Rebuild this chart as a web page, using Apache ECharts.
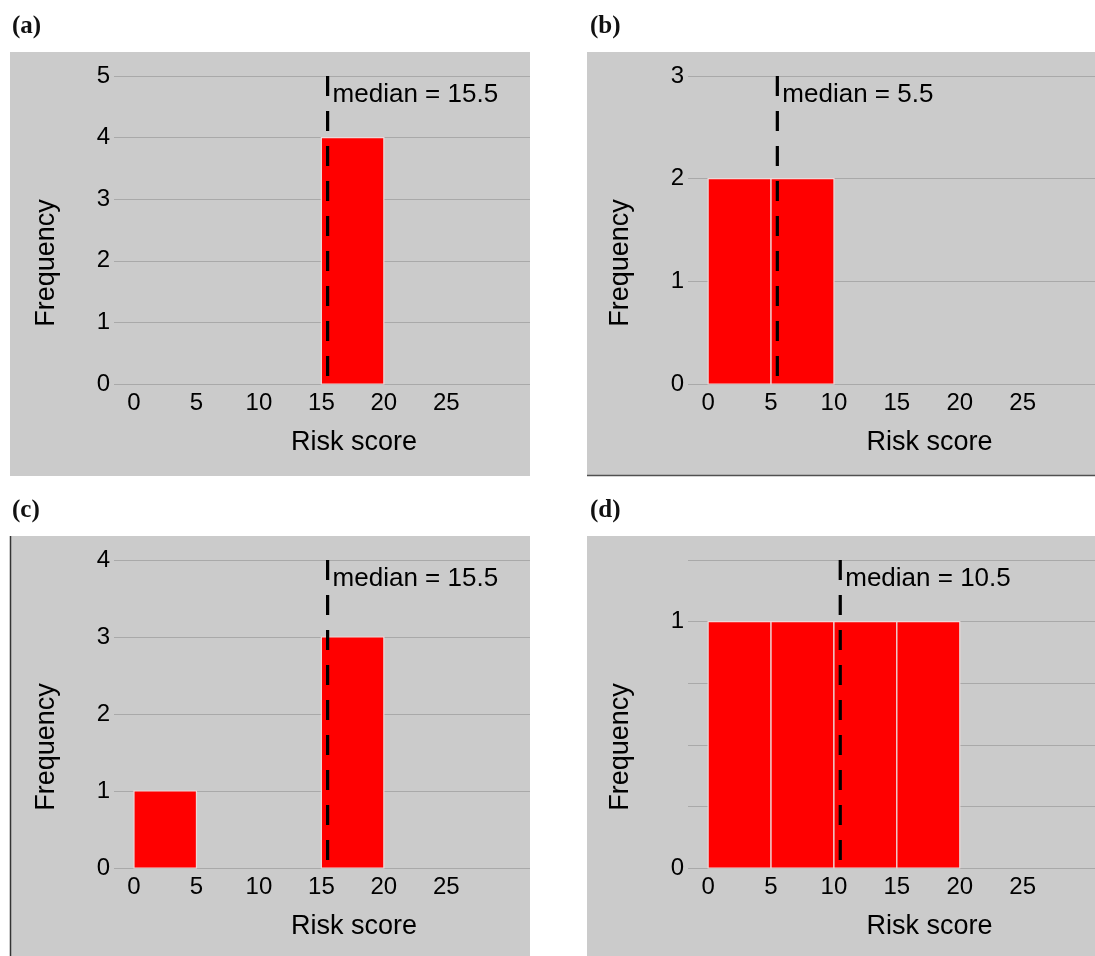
<!DOCTYPE html>
<html>
<head>
<meta charset="utf-8">
<title>Risk score histograms</title>
<script src="https://cdn.jsdelivr.net/npm/echarts@6/dist/echarts.min.js"></script>
<style>
  html, body { margin: 0; padding: 0; background: #ffffff; }
  #chart { width: 1095px; height: 956px; }
</style>
</head>
<body>
<div id="chart"></div>
<script>
// Histogram bins (left edges) and bin width, shared by all four panels
const binStarts = [0, 5, 10, 15, 20, 25];
const binWidth = 5;

// Frequencies per bin for each panel
const countsA = [0, 0, 0, 4, 0, 0];
const countsB = [2, 2, 0, 0, 0, 0];
const countsC = [1, 0, 0, 3, 0, 0];
const countsD = [1, 1, 1, 1, 0, 0];

// Median of each panel's risk scores
const medians = [15.5, 5.5, 15.5, 10.5];

// Y-axis extents, gridline steps and labelled ticks
const yMaxes = [5, 3, 4, 1.25];
const ySteps = [1, 1, 1, 0.25];
const yTickLabelsA = [0, 1, 2, 3, 4, 5];
const yTickLabelsB = [0, 1, 2, 3];
const yTickLabelsC = [0, 1, 2, 3, 4];
const yTickLabelsD = [0, 1];

// X tick labels
const xTickLabels = [0, 5, 10, 15, 20, 25];

const panelLabels = ['(a)', '(b)', '(c)', '(d)'];
const xTitle = 'Risk score';
const yTitle = 'Frequency';

// ---- layout and styling ----
const FONT = '"Liberation Sans", Arial, sans-serif';
const PANEL_BG = '#cbcbcb';
const GRID_LINE = '#a9a9a9';
const TEXT = '#000000';
const X_MIN = -1.6, X_MAX = 31.7;

const allCounts = [countsA, countsB, countsC, countsD];
const allYLabels = [yTickLabelsA, yTickLabelsB, yTickLabelsC, yTickLabelsD];

// pixel boxes: grey panel and plotting grid
const panelBoxes = [
  { x: 10,  y: 52,  w: 520, h: 424 },
  { x: 587, y: 52,  w: 520, h: 424 },
  { x: 10,  y: 536, w: 520, h: 420 },
  { x: 587, y: 536, w: 520, h: 420 }
];
const gridBoxes = [
  { left: 114, top: 76,  width: 416, height: 308 },
  { left: 688, top: 76,  width: 419, height: 308 },
  { left: 114, top: 560, width: 416, height: 308 },
  { left: 688, top: 560, width: 419, height: 308 }
];
const labelPos = [
  { left: 12,  top: 14 },
  { left: 590, top: 14 },
  { left: 12,  top: 498 },
  { left: 590, top: 498 }
];

function renderBins(params, api) {
  const start = api.value(0);
  const end = api.value(1);
  const count = api.value(2);
  if (!count) return null;
  const topLeft = api.coord([start, count]);
  const bottomRight = api.coord([end, 0]);
  return {
    type: 'rect',
    shape: {
      x: topLeft[0],
      y: topLeft[1],
      width: bottomRight[0] - topLeft[0],
      height: bottomRight[1] - topLeft[1]
    },
    style: { fill: '#ff0000', stroke: '#ebdada', lineWidth: 1.2 }
  };
}

const grids = [], xAxes = [], yAxes = [], series = [], titles = [], graphics = [];

panelBoxes.forEach((b) => {
  graphics.push({
    type: 'rect', z: -10, silent: true,
    shape: { x: b.x, y: b.y, width: b.w, height: b.h },
    style: { fill: PANEL_BG }
  });
});
// frame edges visible on panels (b) and (c)
graphics.push({
  type: 'line', z: -9, silent: true,
  shape: { x1: 587, y1: 475.5, x2: 1095, y2: 475.5 },
  style: { stroke: '#505050', lineWidth: 1.5 }
});
graphics.push({
  type: 'line', z: -9, silent: true,
  shape: { x1: 10.5, y1: 536, x2: 10.5, y2: 956 },
  style: { stroke: '#333333', lineWidth: 1.5 }
});

for (let i = 0; i < 4; i++) {
  const g = gridBoxes[i];
  grids.push({
    left: g.left, top: g.top, width: g.width, height: g.height,
    containLabel: false, outerBoundsMode: 'none'
  });

  xAxes.push({
    type: 'value', gridIndex: i, min: X_MIN, max: X_MAX,
    name: xTitle, nameLocation: 'middle', nameGap: 45,
    nameTextStyle: { fontFamily: FONT, fontSize: 27, color: TEXT, padding: [0, 0, 0, 64] },
    axisLine: { show: false }, axisTick: { show: false },
    splitLine: { show: false },
    axisLabel: {
      customValues: xTickLabels,
      fontFamily: FONT, fontSize: 24, color: TEXT, margin: 7
    }
  });

  yAxes.push({
    type: 'value', gridIndex: i, min: 0, max: yMaxes[i], interval: ySteps[i],
    name: yTitle, nameLocation: 'middle', nameRotate: 90, nameGap: 54,
    nameTextStyle: { fontFamily: FONT, fontSize: 27, color: TEXT, padding: [0, 66, 0, 0] },
    axisLine: { show: false }, axisTick: { show: false },
    splitLine: { show: true, lineStyle: { color: GRID_LINE, width: 1 } },
    axisLabel: {
      customValues: allYLabels[i],
      fontFamily: FONT, fontSize: 24, color: TEXT, margin: 4,
      padding: [0, 0, 6, 0]
    }
  });

  series.push({
    type: 'custom', xAxisIndex: i, yAxisIndex: i, z: 2,
    renderItem: renderBins,
    encode: { x: [0, 1], y: 2 },
    data: binStarts.map((s, k) => [s, s + binWidth, allCounts[i][k]])
  });

  // dashed median line, drawn from the top of the axis down to zero
  series.push({
    type: 'line', xAxisIndex: i, yAxisIndex: i, z: 5,
    showSymbol: false, silent: true,
    lineStyle: { color: '#000000', width: 3.2, type: [20, 15] },
    data: [[medians[i], yMaxes[i]], [medians[i], 0]]
  });

  // median annotation
  series.push({
    type: 'scatter', xAxisIndex: i, yAxisIndex: i, z: 6,
    symbolSize: 0.01, silent: true,
    itemStyle: { color: '#000000', opacity: 1 },
    label: {
      show: true, position: [5, 6], align: 'left', verticalAlign: 'top',
      formatter: 'median = ' + medians[i],
      fontFamily: FONT, fontSize: 26, color: TEXT, opacity: 1
    },
    data: [[medians[i], yMaxes[i]]]
  });

  titles.push({
    text: panelLabels[i], left: labelPos[i].left, top: labelPos[i].top, padding: 0,
    textStyle: { fontFamily: '"Liberation Serif", "DejaVu Serif", serif', fontWeight: 'bold', fontSize: 25, color: '#111111' }
  });
}

const chart = echarts.init(document.getElementById('chart'), null, { renderer: 'canvas' });
chart.setOption({
  animation: false,
  backgroundColor: '#ffffff',
  title: titles,
  graphic: graphics,
  grid: grids,
  xAxis: xAxes,
  yAxis: yAxes,
  series: series
});
</script>
</body>
</html>
